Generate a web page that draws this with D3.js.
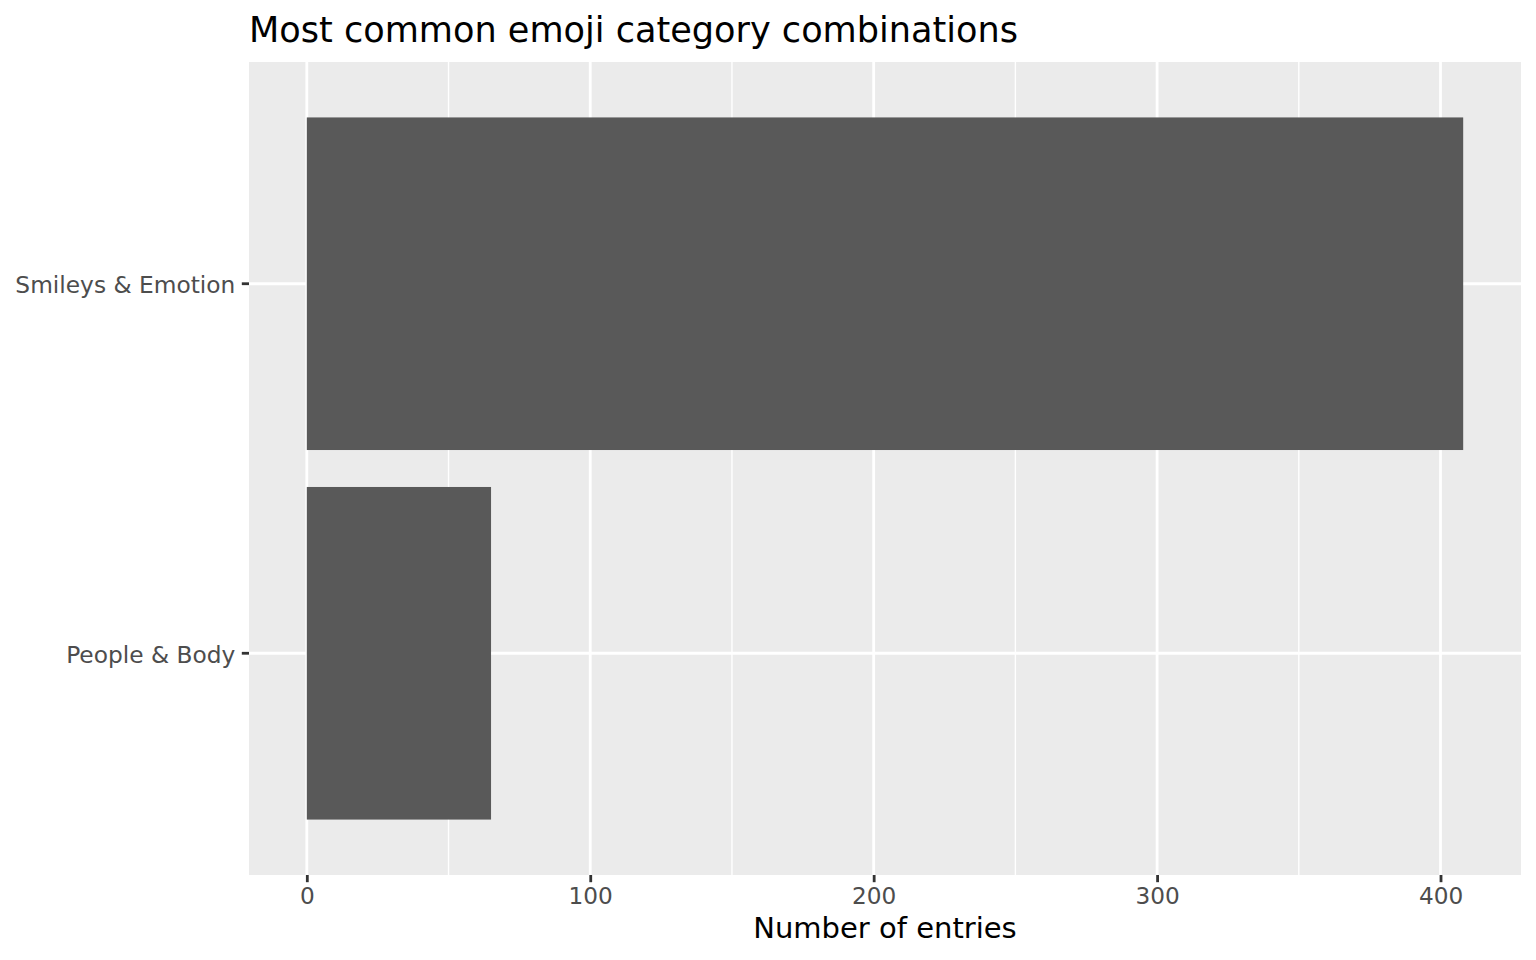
<!DOCTYPE html>
<html>
<head>
<meta charset="utf-8">
<script src="https://cdn.jsdelivr.net/npm/d3@7"></script>
<style>
  html, body { margin: 0; padding: 0; background: #ffffff; }
  svg { display: block; font-family: "DejaVu Sans", sans-serif; }
</style>
</head>
<body>
<svg id="chart" width="1536" height="960"></svg>
<script>
// ---- data ----
const categories = ["Smileys & Emotion", "People & Body"];
const counts = [408, 65];
const xTicks = [0, 100, 200, 300, 400];
const xMinor = [50, 150, 250, 350];
const titleText = "Most common emoji category combinations";
const xTitle = "Number of entries";

// ---- layout ----
const panel = { left: 249, right: 1521, top: 62, bottom: 875 };
const svg = d3.select("#chart");

const maxV = d3.max(counts);
const x = d3.scaleLinear()
  .domain([0 - maxV * 0.05, maxV * 1.05])
  .range([panel.left, panel.right]);

const y = d3.scaleBand()
  .domain(categories)
  .range([panel.top, panel.bottom])
  .paddingInner(0.1)
  .paddingOuter(0.15);

const majorW = 2.8, minorW = 1.4;

// panel background
svg.append("rect")
  .attr("x", panel.left).attr("y", panel.top)
  .attr("width", panel.right - panel.left)
  .attr("height", panel.bottom - panel.top)
  .attr("fill", "#EBEBEB");

// minor grid
svg.append("g").selectAll("line").data(xMinor).join("line")
  .attr("x1", d => x(d)).attr("x2", d => x(d))
  .attr("y1", panel.top).attr("y2", panel.bottom)
  .attr("stroke", "#ffffff").attr("stroke-width", minorW);

// major grid vertical
svg.append("g").selectAll("line").data(xTicks).join("line")
  .attr("x1", d => x(d)).attr("x2", d => x(d))
  .attr("y1", panel.top).attr("y2", panel.bottom)
  .attr("stroke", "#ffffff").attr("stroke-width", majorW);

// major grid horizontal
svg.append("g").selectAll("line").data(categories).join("line")
  .attr("x1", panel.left).attr("x2", panel.right)
  .attr("y1", d => y(d) + y.bandwidth() / 2).attr("y2", d => y(d) + y.bandwidth() / 2)
  .attr("stroke", "#ffffff").attr("stroke-width", majorW);

// bars
svg.append("g").selectAll("rect").data(categories).join("rect")
  .attr("x", x(0))
  .attr("y", d => y(d))
  .attr("width", (d, i) => x(counts[i]) - x(0))
  .attr("height", y.bandwidth())
  .attr("fill", "#595959");

// x axis
const xAxis = svg.append("g")
  .attr("transform", `translate(0,${panel.bottom})`)
  .call(d3.axisBottom(x).tickValues(xTicks).tickSize(7.2).tickPadding(5.6).tickFormat(d3.format("d")));
xAxis.select(".domain").remove();
xAxis.selectAll(".tick line").attr("stroke", "#333333").attr("stroke-width", majorW);
xAxis.selectAll(".tick text")
  .attr("fill", "#4D4D4D")
  .style("font-size", "23.2px")
  .style("font-family", "DejaVu Sans");

// y axis
const yAxis = svg.append("g")
  .attr("transform", `translate(${panel.left},0)`)
  .call(d3.axisLeft(y).tickSize(7.2).tickPadding(6.5));
yAxis.select(".domain").remove();
yAxis.selectAll(".tick line").attr("stroke", "#333333").attr("stroke-width", majorW);
yAxis.selectAll(".tick text")
  .attr("fill", "#4D4D4D")
  .attr("dy", "0.4em")
  .style("font-size", "23.3px")
  .style("font-family", "DejaVu Sans");

// title
svg.append("text")
  .attr("x", panel.left)
  .attr("y", 42)
  .attr("fill", "#000000")
  .style("font-size", "35.1px")
  .text(titleText);

// x axis title
svg.append("text")
  .attr("x", (panel.left + panel.right) / 2)
  .attr("y", 938)
  .attr("text-anchor", "middle")
  .attr("fill", "#000000")
  .style("font-size", "29px")
  .text(xTitle);
</script>
</body>
</html>
